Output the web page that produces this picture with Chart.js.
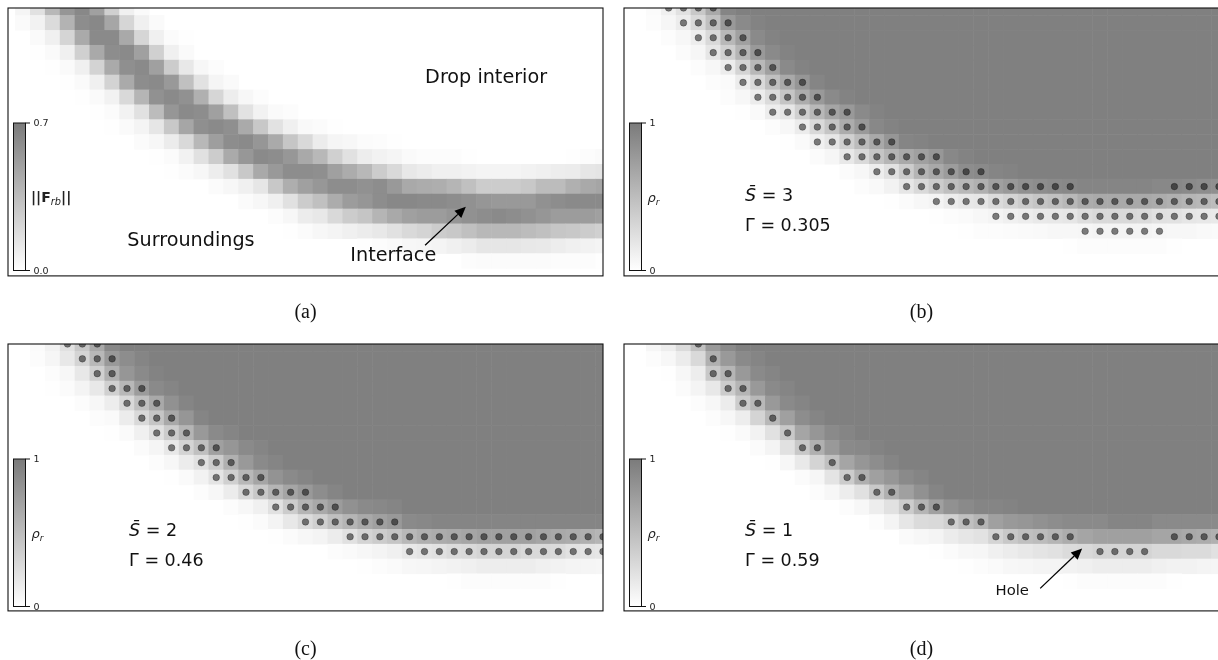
<!DOCTYPE html>
<html><head><meta charset="utf-8">
<style>
html,body{margin:0;padding:0;background:#fff;overflow:hidden;width:1218px;height:660px}
canvas{position:absolute;display:block}
</style>
<script src="https://cdn.jsdelivr.net/npm/chart.js@4/dist/chart.umd.min.js"></script>
</head><body>
<canvas id="a" width="609" height="330" style="left:0;top:0"></canvas>
<canvas id="b" width="620" height="330" style="left:610px;top:0"></canvas>
<canvas id="c" width="609" height="332" style="left:0;top:330px"></canvas>
<canvas id="d" width="620" height="332" style="left:610px;top:330px"></canvas>
<script>
// Each row: [first column, value, value, ...] in percent of the colour bar range.
const fieldA=[
[1,8,24,56,83,94,75,37,12,4],
[1,4,10,28,60,90,94,70,32,12,4],
[2,4,12,33,67,92,92,68,32,12,3,1],
[2,1,4,12,37,68,90,92,75,37,12,4],
[3,1,4,12,35,67,88,92,75,40,18,6,2],
[4,1,4,12,35,67,90,92,80,50,23,8,4],
[5,1,4,10,30,58,87,92,87,62,32,14,6,2],
[6,1,3,10,24,53,83,92,90,75,50,23,10,4,2],
[7,1,4,9,20,43,70,88,92,88,67,43,23,12,5,3,1],
[9,3,6,15,30,56,76,90,92,83,67,45,30,15,8,6,3,2,1],
[10,1,3,10,24,40,67,82,92,90,82,68,56,37,24,14,10,8,4,2,2,2,1,0,0,0,0,0,0,1,2,4],
[11,1,3,6,14,24,43,68,80,90,90,88,75,65,56,40,30,18,15,12,12,10,9,9,9,10,12,14,15,20,21],
[14,3,6,12,20,43,64,75,82,90,90,87,90,80,68,65,64,58,50,40,40,40,43,53,53,62,68,71],
[16,3,6,12,24,40,50,65,78,83,90,94,94,92,92,90,87,83,80,80,80,87,90,92,92,92],
[18,2,6,15,18,30,40,46,58,68,75,78,78,83,87,90,92,90,87,83,78,78,78,75],
[19,1,3,6,9,12,15,18,24,30,34,40,43,50,56,56,56,53,50,45,43,40,37],
[24,1,2,4,6,7,9,12,15,20,20,20,18,17,14,12,10,9],
[31,2,3,3,3,3,3,2,2,2,1],
[]];
const fieldB=[
[2,3,12,24,43,68,96],
[2,2,7,15,30,50,80,92,98],
[3,2,6,14,30,56,75,92,98],
[4,3,7,20,37,58,80,92,98],
[5,2,6,15,34,56,75,92,98],
[6,2,4,15,30,50,68,83,96],
[7,2,6,15,28,46,65,80,92,98],
[8,1,4,14,20,37,56,71,80,92,98],
[10,2,6,15,30,46,65,80,94,98],
[11,1,4,12,20,37,53,68,83,96,98],
[13,3,7,18,30,46,58,68,75,82,94,98],
[15,3,6,14,24,40,58,68,78,90,92,96,98],
[16,2,5,10,20,30,40,50,56,62,75,80,87,90,92,94,96,96,96,96,96,94,94,92,90,88],
[18,1,3,6,9,14,18,20,28,34,40,46,50,56,65,68,68,68,68,65,62,58,56,53],
[21,1,2,4,6,9,12,14,17,18,20,26,30,30,30,28,24,23,20,18,17],
[23,1,2,2,3,4,5,6,6,7,9,9,9,9,7,6,6,5,4],
[30,1,2,2,2,2,2,2,1,0,0,0],
[],[]];
const fieldC=[
[2,3,10,24,43,68,94],
[2,2,7,18,34,56,80,90,96],
[3,2,6,18,37,62,83,92,98],
[3,1,3,9,18,37,56,78,92,96],
[5,2,6,14,30,50,68,87,96],
[6,2,4,15,30,46,68,83,96],
[7,1,4,12,24,40,58,80,92,96],
[9,3,8,18,34,50,75,83,92,96],
[10,2,6,15,24,40,62,80,92,96],
[11,1,4,10,21,37,56,71,85,92,96],
[13,2,6,15,30,43,58,71,80,90,96],
[15,2,6,12,24,40,58,68,78,87,92,94,96],
[16,1,3,9,18,28,37,50,58,68,75,80,92,94,96,96,96,96,96,96,96,96,96,96,96,96],
[18,1,3,6,9,15,24,34,40,46,56,62,65,68,71,75,75,75,75,71,68,65,62,58],
[22,2,4,6,9,12,18,21,24,28,30,34,34,34,30,30,28,24,21,20],
[24,1,2,4,6,7,9,10,12,14,14,14,14,12,10,9,8,7],
[30,1,2,2,2,2,2,2,1,0,0,0],
[],[]];
const fieldD=[
[2,7,14,28,50,80,92],
[2,2,6,15,30,62,80,92,96],
[3,1,6,14,43,58,80,92,96],
[4,3,9,18,40,58,80,92,96],
[5,2,6,15,40,56,80,92,96],
[6,2,6,14,34,56,75,90,96],
[7,1,4,10,24,43,71,83,92,96],
[9,3,9,24,43,62,80,92,94,98],
[10,1,6,17,34,50,71,83,90,96],
[12,3,7,21,40,62,75,83,92,96],
[13,2,6,14,24,43,62,75,87,96],
[15,2,6,14,24,40,58,75,87,92,96,96,98],
[17,2,9,20,28,30,37,50,58,75,80,83,87,90,92,92,92,96,96,96,92,92,92,92,92],
[19,4,6,9,15,20,23,34,43,50,53,58,65,71,75,75,75,75,71,71,68,65,62],
[21,1,3,6,7,12,15,18,21,24,28,30,34,34,34,34,30,30,28,28,24],
[23,1,2,4,6,7,9,9,10,12,14,14,14,14,12,10,10,9,8],
[30,1,2,2,2,2,2,2,1,0,0,0],
[],[]];
// Bead runs: [row, first column, last column]
const beadsB=[[0,3,6],[1,4,7],[2,5,8],[3,6,9],[4,7,10],[5,8,12],[6,9,13],[7,10,15],[8,12,16],[9,13,18],[10,15,21],[11,17,24],[12,19,30],[12,37,40],[13,21,40],[14,25,40],[15,31,36]];
const beadsC=[[0,4,6],[1,5,7],[2,6,7],[3,7,9],[4,8,10],[5,9,11],[6,10,12],[7,11,14],[8,13,15],[9,14,17],[10,16,20],[11,18,22],[12,20,26],[13,23,40],[14,27,40]];
const beadsD=[[0,5,5],[1,6,6],[2,6,7],[3,7,8],[4,8,9],[5,10,10],[6,11,11],[7,12,13],[8,14,14],[9,15,16],[10,17,18],[11,19,21],[12,22,24],[13,25,30],[13,37,40],[14,32,35]];
const barTicks={a:['0.7','0.0'],b:['1','0'],c:['1','0'],d:['1','0']};
const captions={a:'(a)',b:'(b)',c:'(c)',d:'(d)'};

const SANS='"DejaVu Sans"';
function cells(rows,tail){
  const out=[];
  rows.forEach((r,y)=>{
    if(!r.length)return;
    const vals=r.slice(1);
    vals.forEach((v,i)=>{if(v>0)out.push({x:r[0]+i,y,v});});
    if(tail)for(let c=r[0]+vals.length;c<=40;c++)out.push({x:c,y,v:tail});
  });
  return out;
}
function beads(runs){
  const out=[];
  runs.forEach(([y,a,b])=>{for(let x=a;x<=b;x++)out.push({x,y});});
  return out;
}
function runsText(ctx,runs,x,y,size){
  let cx=x;
  ctx.textAlign='left';ctx.textBaseline='alphabetic';
  runs.forEach(([t,style,scale,dy])=>{
    ctx.font=`${style||''} ${size*(scale||1)}px ${SANS}`;
    ctx.fillText(t,cx,y+(dy||0));
    cx+=ctx.measureText(t).width;
  });
}
const annot={
 id:'annot',
 afterDatasetsDraw(chart,_,o){
  const {ctx,chartArea:A,scales:{x,y}}=chart;
  ctx.save();
  ctx.fillStyle='#111';
  (o.notes||[]).forEach(n=>{
    ctx.font=`${n.size}px ${SANS}`;
    if(n.center){ctx.textAlign='center';ctx.textBaseline='middle';ctx.fillText(n.center,x.getPixelForValue(n.x),y.getPixelForValue(n.y)+1);}
    else runsText(ctx,n.runs,x.getPixelForValue(n.x),y.getPixelForValue(n.y),n.size);
  });
  if(o.arrow){
    const [x0,y0,x1,y1]=[x.getPixelForValue(o.arrow[0]),y.getPixelForValue(o.arrow[1]),x.getPixelForValue(o.arrow[2]),y.getPixelForValue(o.arrow[3])];
    const t=Math.atan2(y1-y0,x1-x0),L=11,W=5;
    ctx.strokeStyle='#000';ctx.lineWidth=1.3;
    ctx.beginPath();ctx.moveTo(x0,y0);ctx.lineTo(x1-L*Math.cos(t),y1-L*Math.sin(t));ctx.stroke();
    ctx.fillStyle='#000';ctx.beginPath();ctx.moveTo(x1,y1);
    ctx.lineTo(x1-L*Math.cos(t)+W*Math.sin(t),y1-L*Math.sin(t)-W*Math.cos(t));
    ctx.lineTo(x1-L*Math.cos(t)-W*Math.sin(t),y1-L*Math.sin(t)+W*Math.cos(t));
    ctx.closePath();ctx.fill();
  }
  // colour bar
  const bx=A.left+5.5,bw=12,bt=A.top+115,bb=A.top+262.5;
  const g=ctx.createLinearGradient(0,bt,0,bb);g.addColorStop(0,'#7b7b7b');g.addColorStop(1,'#ffffff');
  ctx.fillStyle=g;ctx.fillRect(bx,bt,bw,bb-bt);
  ctx.strokeStyle='#111';ctx.lineWidth=1;ctx.strokeRect(bx,bt,bw,bb-bt);
  ctx.beginPath();ctx.moveTo(bx+bw,bt);ctx.lineTo(bx+bw+4.5,bt);ctx.moveTo(bx+bw,bb);ctx.lineTo(bx+bw+4.5,bb);ctx.stroke();
  ctx.fillStyle='#222';ctx.font=`9.5px ${SANS}`;ctx.textAlign='left';ctx.textBaseline='middle';
  ctx.fillText(o.ticks[0],bx+bw+8,bt+1);ctx.fillText(o.ticks[1],bx+bw+8,bb+1);
  runsText(ctx,o.barLabel,bx+bw+o.labelDx,(bt+bb)/2+5,o.labelSize);
  // frame
  ctx.strokeStyle='#111';ctx.lineWidth=1.1;ctx.strokeRect(A.left,A.top,A.right-A.left,A.bottom-A.top);
  ctx.restore();
 }
};
function panel(id,field,tail,bd,opts){
  const isLeft=id==='a'||id==='c', isTop=id==='a'||id==='b';
  const datasets=[];
  if(bd)datasets.push({data:beads(bd),order:0,showLine:false,pointStyle:'circle',pointRadius:3.3,
    pointBackgroundColor:'rgba(0,0,0,0.5)',pointBorderColor:'rgba(0,0,0,0.35)',pointBorderWidth:0.8});
  datasets.push({data:cells(field,tail),order:1,showLine:false,pointStyle:'rect',
    pointRadius:c=>{const s=c.chart.scales.x;return Math.abs(s.getPixelForValue(1)-s.getPixelForValue(0))/Math.SQRT2+0.4;},
    pointBorderWidth:0,
    pointBackgroundColor:c=>{const g=Math.round(255-127*c.raw.v/100);return `rgb(${g},${g},${g})`;}});
  new Chart(document.getElementById(id),{type:'scatter',data:{datasets},plugins:[annot],options:{
    responsive:false,animation:false,devicePixelRatio:1,
    layout:{padding:{left:isLeft?8:14,top:isTop?8:14,right:isLeft?6:11,bottom:isTop?5.1:0.1}},
    events:[],
    plugins:{legend:{display:false},tooltip:{enabled:false},annot:opts},
    scales:{
      x:{type:'linear',min:0,max:40,grid:{display:false},border:{display:false},ticks:{display:false},
         title:{display:true,text:captions[id],color:'#111',font:{family:'"Liberation Serif"',size:20},padding:{top:isTop?17:19,bottom:0}}},
      y:{type:'linear',min:0,max:18,reverse:true,display:false}
    }
  }});
}
const rho=[['\u03C1','italic'],['r','italic',0.7,3]];
panel('a',fieldA,0,null,{ticks:barTicks.a,labelDx:5.5,labelSize:14,
  barLabel:[['||F','bold'],['rb','italic',0.7,3],['||','bold']],
  notes:[{center:'Drop interior',x:32.14,y:4.64,size:19.2},{center:'Surroundings',x:12.3,y:15.6,size:19.2},{center:'Interface',x:25.9,y:16.6,size:19.2}],
  arrow:[28.04,15.94,30.78,13.36]});
panel('b',fieldB,100,beadsB,{ticks:barTicks.b,labelDx:6,labelSize:13,barLabel:rho,
  notes:[{runs:[['S\u0304','italic'],[' = 3','']],x:8.14,y:12.95,size:17.5},{runs:[['\u0393 = 0.305','']],x:8.14,y:15,size:17.5}]});
panel('c',fieldC,100,beadsC,{ticks:barTicks.c,labelDx:6,labelSize:13,barLabel:rho,
  notes:[{runs:[['S\u0304','italic'],[' = 2','']],x:8.14,y:12.95,size:17.5},{runs:[['\u0393 = 0.46','']],x:8.14,y:15,size:17.5}]});
panel('d',fieldD,100,beadsD,{ticks:barTicks.d,labelDx:6,labelSize:13,barLabel:rho,
  notes:[{runs:[['S\u0304','italic'],[' = 1','']],x:8.14,y:12.95,size:17.5},{runs:[['\u0393 = 0.59','']],x:8.14,y:15,size:17.5},{center:'Hole',x:26.1,y:16.6,size:14.8}],
  arrow:[27.98,16.48,30.8,13.79]});
</script>
</body></html>
